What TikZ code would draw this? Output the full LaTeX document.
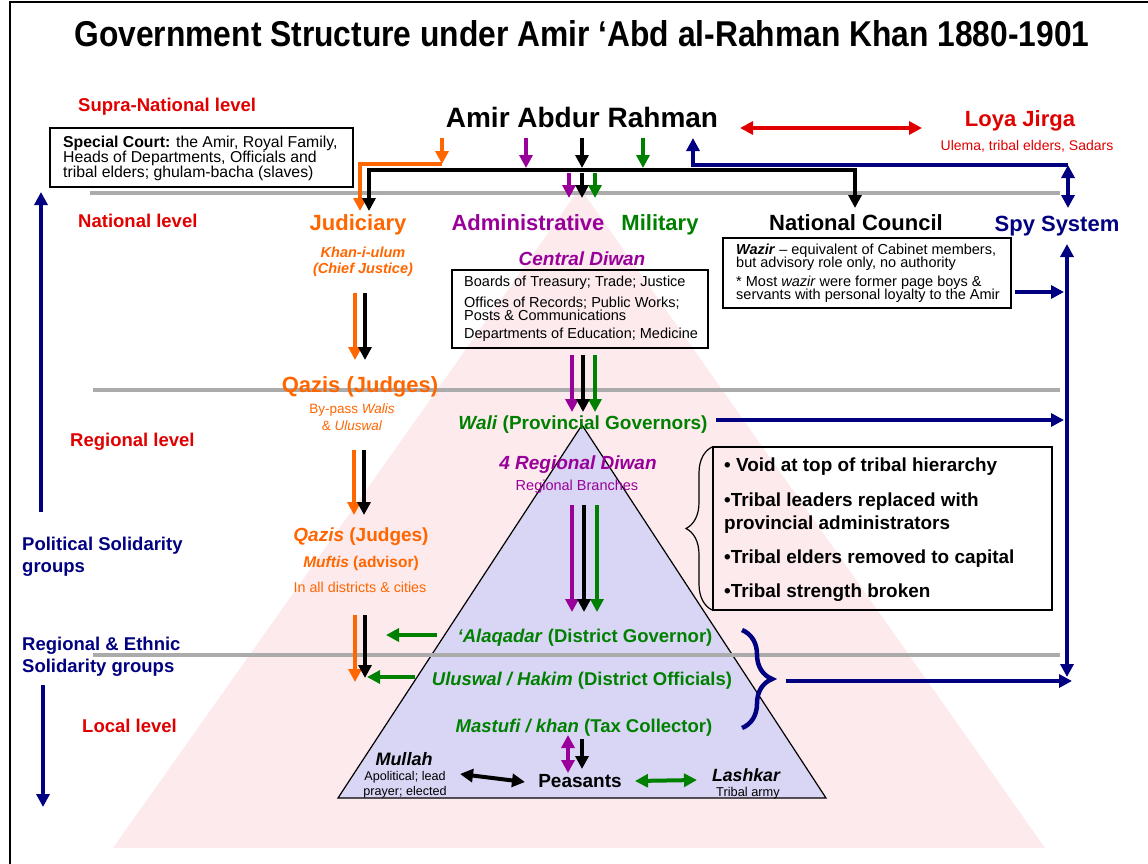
\documentclass[tikz,border=0pt]{standalone}
\usepackage{fontspec}
\setmainfont{Liberation Sans}
\usepackage{graphicx}
\usetikzlibrary{arrows.meta,decorations.pathreplacing}
\definecolor{orng}{HTML}{FF6600}
\definecolor{purp}{HTML}{990099}
\definecolor{grn}{HTML}{008000}
\definecolor{navy}{HTML}{000080}
\definecolor{redd}{HTML}{E00000}
\definecolor{pinkbg}{HTML}{FCEAEC}
\definecolor{lav}{HTML}{D8D6F4}
\definecolor{sepgray}{HTML}{ABABAB}
\newcommand{\myfs}[2]{\fontsize{#1}{#2}\selectfont\lineskiplimit=-40pt\relax}
\tikzset{
  tx/.style={inner sep=0pt, anchor=base},
  txw/.style={inner sep=0pt, anchor=base west},
  lvl/.style={txw, text=redd, font=\myfs{18.5}{22}\bfseries},
  grp/.style={txw, text=navy, font=\myfs{18.5}{22}\bfseries},
  hd/.style={tx, font=\myfs{22}{26}\bfseries},
  grnlbl/.style={tx, text=grn, font=\myfs{18.5}{22}\bfseries},
  boxr/.style={draw, line width=1.8pt, inner sep=0pt},
  boxtxt/.style={inner sep=0pt, anchor=west, align=left},
  ar/.style={line width=4pt, ->},
  dar/.style={line width=4pt, <->},
  sepl/.style={line width=3.5pt, draw=sepgray},
}
\begin{document}
\begin{tikzpicture}[x=1pt,y=-1pt,>={Triangle[length=13pt,width=13pt]}]
\useasboundingbox (0,0) rectangle (1148,864);
\fill[white] (0,0) rectangle (1148,864);
% frame
\draw[line width=2pt] (10,864) -- (10,2) -- (1148,2);
% pyramids
\fill[pinkbg] (580,188) -- (1045,848) -- (113,848) -- cycle;
\filldraw[fill=lav, draw=black, line width=1.2pt] (582,425) -- (826,798) -- (338,798) -- cycle;
% level separators
\draw[sepl] (90,193) -- (1060,193);
\draw[sepl] (93,390) -- (1060,390);
\draw[sepl] (93,655) -- (1060,655);

% boxes
\node[boxr, minimum width=303pt, minimum height=59pt] (scbox) at (201.5,157.5) {};
\node[boxtxt, font=\myfs{15.8}{15}] (sctxt) at (63,158) {\textbf{Special Court:} the Amir, Royal Family,\\Heads of Departments, Officials and\\tribal elders; ghulam-bacha (slaves)};
\node[boxr, minimum width=256pt, minimum height=78pt] (cdbox) at (580,309) {};
\node[boxtxt, font=\myfs{14.5}{13}] (cdtxt) at (464,309) {Boards of Treasury; Trade; Justice\\[7.5pt]Offices of Records; Public Works;\\Posts \& Communications\\[5.5pt]Departments of Education; Medicine};
\node[boxr, minimum width=288pt, minimum height=70pt] (ncbox) at (867,273) {};
\node[boxtxt, font=\myfs{14.5}{13}] (nctxt) at (736,273) {\textbf{\textit{Wazir}} – equivalent of Cabinet members,\\but advisory role only, no authority\\[6pt]* Most \textit{wazir} were former page boys \&\\servants with personal loyalty to the Amir};
\node[boxr, minimum width=339pt, minimum height=163pt] (blbox) at (882.5,528.5) {};
\node[boxtxt, font=\myfs{18.9}{23}\bfseries] (bltxt) at (724,530) {• Void at top of tribal hierarchy\\[12pt]•Tribal leaders replaced with\\provincial administrators\\[11pt]•Tribal elders removed to capital\\[11pt]•Tribal strength broken};

% braces
\draw[line width=1.2pt, decorate, decoration={brace, amplitude=26pt}] (712,610) -- (712,447);
\draw[navy, line width=4.5pt, decorate, decoration={brace, amplitude=30pt}] (742,630) -- (742,728);

% coordinates for connectors
\coordinate (oA) at (442,138); \coordinate (oB) at (442,164);
\coordinate (oC) at (360,164); \coordinate (oD) at (360,211);
\coordinate (kA) at (369,211); \coordinate (kB) at (369,170);
\coordinate (kC) at (855,170); \coordinate (kD) at (855,208);
\coordinate (pA) at (526,138); \coordinate (pB) at (526,168);
\coordinate (bA) at (582,138); \coordinate (bB) at (582,168);
\coordinate (gA) at (643,138); \coordinate (gB) at (643,168);
\coordinate (nA) at (693,138); \coordinate (nB) at (693,165);
\coordinate (nC) at (1068,165); \coordinate (nD) at (1068,208);
\coordinate (p2A) at (569,173); \coordinate (p2B) at (569,198);
\coordinate (b2A) at (582,173); \coordinate (b2B) at (582,198);
\coordinate (g2A) at (595,173); \coordinate (g2B) at (595,198);
\coordinate (rA) at (740,128); \coordinate (rB) at (922,128);
\coordinate (j1oA) at (355,293); \coordinate (j1oB) at (355,360);
\coordinate (j1kA) at (365,293); \coordinate (j1kB) at (365,360);
\coordinate (j2oA) at (354,450); \coordinate (j2oB) at (354,515);
\coordinate (j2kA) at (364,450); \coordinate (j2kB) at (364,515);
\coordinate (j3oA) at (355,615); \coordinate (j3oB) at (355,682);
\coordinate (j3kA) at (365,615); \coordinate (j3kB) at (365,678);
\coordinate (c1A) at (572,355); \coordinate (c1B) at (572,412);
\coordinate (c2A) at (583,355); \coordinate (c2B) at (583,412);
\coordinate (c3A) at (595,355); \coordinate (c3B) at (595,412);
\coordinate (r1A) at (572,505); \coordinate (r1B) at (572,612);
\coordinate (r2A) at (584,505); \coordinate (r2B) at (584,612);
\coordinate (r3A) at (597,505); \coordinate (r3B) at (597,612);
\coordinate (gl1A) at (437,635); \coordinate (gl1B) at (386,635);
\coordinate (gl2A) at (415,677); \coordinate (gl2B) at (367,677);
\coordinate (bpA) at (568,735); \coordinate (bpB) at (568,773);
\coordinate (bkA) at (582,739); \coordinate (bkB) at (582,769);
\coordinate (mpA) at (460,774); \coordinate (mpB) at (525,782);
\coordinate (plA) at (635,781); \coordinate (plB) at (697,780);
\coordinate (s1A) at (1015,292); \coordinate (s1B) at (1064,292);
\coordinate (s2A) at (716,420); \coordinate (s2B) at (1064,420);
\coordinate (s3A) at (786,681); \coordinate (s3B) at (1072,681);
\coordinate (svA) at (1067,244); \coordinate (svB) at (1067,677);
\coordinate (luA) at (41,512); \coordinate (luB) at (41,192);
\coordinate (ldA) at (43,685); \coordinate (ldB) at (43,807);

% top distribution
\draw[ar, orng] (oA) -- (oB);
\draw[ar, orng] (oB) -- (oC) -- (oD);
\draw[navy, line width=4.5pt, ->] (nC) -- (nB) -- (nA);
\draw[line width=4.5pt, <->] (kA) -- (kB) -- (kC) -- (kD);
\draw[dar, navy] (nC) -- (nD);
\draw[ar, purp] (pA) -- (pB);
\draw[ar] (bA) -- (bB);
\draw[ar, grn] (gA) -- (gB);
\draw[ar, purp] (p2A) -- (p2B);
\draw[ar, grn] (g2A) -- (g2B);
\draw[ar] (b2A) -- (b2B);
\draw[dar, redd] (rA) -- (rB);
% judiciary column
\draw[ar, orng] (j1oA) -- (j1oB); \draw[ar] (j1kA) -- (j1kB);
\draw[ar, orng] (j2oA) -- (j2oB); \draw[ar] (j2kA) -- (j2kB);
\draw[ar, orng] (j3oA) -- (j3oB); \draw[ar] (j3kA) -- (j3kB);
% central column
\draw[ar, purp] (c1A) -- (c1B); \draw[ar, grn] (c3A) -- (c3B); \draw[ar] (c2A) -- (c2B);
\draw[ar, purp] (r1A) -- (r1B); \draw[ar, grn] (r3A) -- (r3B); \draw[ar] (r2A) -- (r2B);
\draw[ar, grn] (gl1A) -- (gl1B);
\draw[ar, grn] (gl2A) -- (gl2B);
\draw[dar, purp] (bpA) -- (bpB);
\draw[ar] (bkA) -- (bkB);
\draw[dar] (mpA) -- (mpB);
\draw[dar, grn] (plA) -- (plB);
% spy system
\draw[ar, navy] (s1A) -- (s1B);
\draw[ar, navy] (s2A) -- (s2B);
\draw[ar, navy] (s3A) -- (s3B);
\draw[dar, navy] (svA) -- (svB);
% left side
\draw[ar, navy] (luA) -- (luB);
\draw[ar, navy] (ldA) -- (ldB);

% texts
\node[tx, font=\myfs{31}{31}\bfseries] (title) at (582,47) {\resizebox{1015pt}{26pt}{Government Structure under Amir ‘Abd al-Rahman Khan 1880-1901}};
\node[tx, font=\myfs{28}{30}\bfseries] (amir) at (582,128) {Amir Abdur Rahman};
\node[lvl] (supra) at (78,112) {Supra-National level};
\node[lvl] (natl) at (78,227) {National level};
\node[lvl] (regl) at (70,446) {Regional level};
\node[lvl] (locl) at (82,732) {Local level};
\node[grp] (pol1) at (22,550) {Political Solidarity};
\node[grp] (pol2) at (22,572) {groups};
\node[grp] (eth1) at (22,650) {Regional \& Ethnic};
\node[grp] (eth2) at (22,672) {Solidarity groups};
\node[hd, text=orng] (jud) at (358,230) {Judiciary};
\node[hd, text=purp] (adm) at (528,230) {Administrative};
\node[hd, text=grn] (mil) at (660,230) {Military};
\node[hd] (ncl) at (856,230) {National Council};
\node[hd, text=navy] (spy) at (1057,231) {Spy System};
\node[hd, text=redd] (loya) at (1020,127) {Loya Jirga};
\node[tx, text=redd, font=\myfs{14}{16}] (ulema) at (1027,150) {Ulema, tribal elders, Sadars};
\node[tx, text=orng, font=\myfs{14.5}{16}\bfseries\itshape] (khan1) at (363,257) {Khan-i-ulum};
\node[tx, text=orng, font=\myfs{14.5}{16}\bfseries\itshape] (khan2) at (363,273) {(Chief Justice)};
\node[tx, text=purp, font=\myfs{19}{22}\bfseries\itshape] (cdiw) at (582,265) {Central Diwan};
\node[hd, text=orng] (qaz1) at (360,392) {Qazis (Judges)};
\node[tx, text=orng, font=\myfs{13.5}{16}] (byp1) at (352,413) {By-pass \textit{Walis}};
\node[tx, text=orng, font=\myfs{13.5}{16}] (byp2) at (352,430) {\& \textit{Uluswal}};
\node[tx, text=grn, font=\myfs{19}{22}\bfseries] (wali) at (583,429) {\textit{Wali} (Provincial Governors)};
\node[tx, text=purp, font=\myfs{19}{22}\bfseries\itshape] (rdiw) at (578,469) {4 Regional Diwan};
\node[tx, text=purp, font=\myfs{14.5}{16}] (rbr) at (577,490) {Regional Branches};
\node[tx, text=orng, font=\myfs{19}{22}\bfseries] (qaz2) at (361,541) {\textit{Qazis} (Judges)};
\node[tx, text=orng, font=\myfs{15.5}{18}\bfseries] (muf) at (361,567) {\textit{Muftis} (advisor)};
\node[tx, text=orng, font=\myfs{14.3}{16}] (inall) at (360,592) {In all districts \& cities};
\node[grnlbl] (alaq) at (585,642) {\textit{‘Alaqadar} (District Governor)};
\node[grnlbl] (ulus) at (582,685) {\textit{Uluswal / Hakim} (District Officials)};
\node[grnlbl] (mast) at (584,732) {\textit{Mastufi / khan} (Tax Collector)};
\node[tx, font=\myfs{18}{20}\bfseries\itshape] (mul) at (404,765) {Mullah};
\node[tx, font=\myfs{12.6}{14}] (apo1) at (405,780) {Apolitical; lead};
\node[tx, font=\myfs{12.6}{14}] (apo2) at (405,795) {prayer; elected};
\node[tx, font=\myfs{19}{22}\bfseries] (peas) at (580,787) {Peasants};
\node[tx, font=\myfs{17.7}{20}\bfseries\itshape] (lash) at (746,781) {Lashkar};
\node[tx, font=\myfs{12.8}{14}] (trib) at (748,796) {Tribal army};
\end{tikzpicture}
\end{document}
